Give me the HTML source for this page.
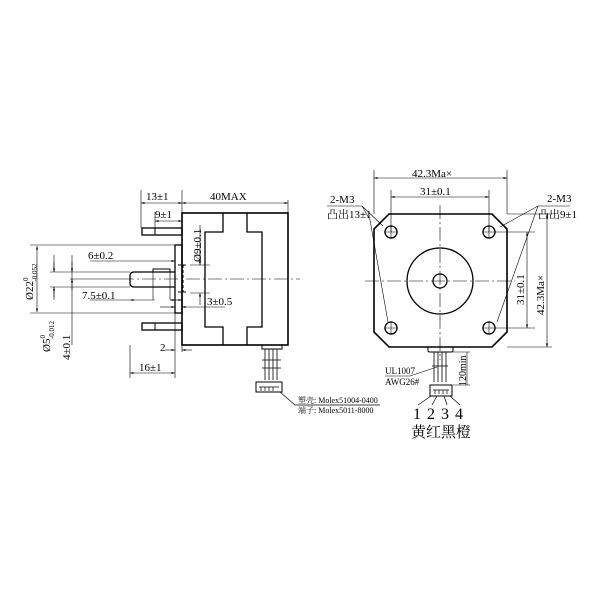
<!DOCTYPE html>
<html><head><meta charset="utf-8"><style>
html,body{margin:0;padding:0;background:#fff}
svg{display:block}
text{font-family:"Liberation Serif","Noto Serif CJK SC",serif;fill:#000}
</style></head><body>
<svg width="600" height="600" viewBox="0 0 600 600" xmlns="http://www.w3.org/2000/svg">
<defs>
<marker id="a" viewBox="0 0 10 10" refX="10" refY="5" markerWidth="6" markerHeight="6" orient="auto-start-reverse"><path d="M0,2 L10,5 L0,8z" fill="#000"/></marker>
</defs>
<g fill="none" stroke="#000" stroke-width="1">
<rect x="182" y="213" width="106" height="132" stroke-width="1.6"/>
<path d="M223,213 V232 H205 V327 H223 V345 M247,213 V232 H262 V327 H247 V345" stroke-width="1.3"/>
<rect x="175" y="245" width="7" height="68" stroke-width="1.3"/>
<path d="M130,276 Q130,272 134,272 H175 M130,283 Q130,287 134,287 H175 M130,276 V283" stroke-width="1.3"/>
<path d="M153,272 V269 H170 V272" stroke-width="1"/>
<rect x="142" y="228" width="40" height="7" stroke-width="1.3"/>
<rect x="142" y="323" width="40" height="7" stroke-width="1.3"/>
<path d="M155,228 V235 M155,323 V330"/>
<path d="M178,265 H186 M178,292 H186 M183,265 V292" stroke-dasharray="3,2"/>
<path d="M120,279 H300" stroke-width="0.6" stroke-dasharray="14,3,2,3"/>
<rect x="262" y="345" width="20" height="4"/>
<path d="M265,349 V380 M269,349 V380 M273,349 V380 M277,349 V380 M262,360 H281 M262,368 H281" stroke-width="0.8"/>
<rect x="256" y="382" width="26" height="10"/>
<path d="M259,387 H279 M261,387 V391 M265,387 V391 M269,387 V391 M273,387 V391" stroke-width="0.7"/>
<path d="M280,392 L295,405 H380" stroke-width="0.7"/>
<path d="M141,228 V190 M182,213 V190 M288,213 V200 M155,228 V212" stroke-width="0.6"/>
<path d="M141,203 H182" marker-start="url(#a)" marker-end="url(#a)" stroke-width="0.6"/>
<path d="M182,203 H288" marker-start="url(#a)" marker-end="url(#a)" stroke-width="0.6"/>
<path d="M155,221 H182" marker-start="url(#a)" marker-end="url(#a)" stroke-width="0.6"/>
<path d="M30,245 H175 M30,313 H175" stroke-width="0.6"/>
<path d="M37,246 V312" marker-start="url(#a)" marker-end="url(#a)" stroke-width="0.6"/>
<path d="M50,272 H130 M50,287 H130" stroke-width="0.6"/>
<path d="M54,255 V272 M54,287 V300 M54,270 V260" stroke-width="0.6"/>
<path d="M54,262 V272" marker-end="url(#a)" stroke-width="0.6"/><path d="M54,297 V287" marker-end="url(#a)" stroke-width="0.6"/>
<path d="M72,262 V272" marker-end="url(#a)" stroke-width="0.6"/><path d="M72,255 V345" stroke-width="0.6"/>
<path d="M72,290 V279" marker-end="url(#a)" stroke-width="0.6"/>
<path d="M90,261 H153 M70,279 H120" stroke-width="0.6"/>
<path d="M153,261 H175" marker-end="url(#a)" stroke-width="0.6"/>
<path d="M90,300 H130" stroke-width="0.6"/><path d="M155,300 H130" marker-end="url(#a)" stroke-width="0.6"/>
<path d="M153,269 V300 M170,269 V300" stroke-width="0.6"/>
<path d="M170,300 H182" marker-start="url(#a)" marker-end="url(#a)" stroke-width="0.6"/>
<path d="M200,225 V265 M190,265 H210 M190,293 H210" stroke-width="0.6"/>
<path d="M200,250 V265" marker-end="url(#a)" stroke-width="0.6"/>
<path d="M200,305 V293" marker-end="url(#a)" stroke-width="0.6"/>
<path d="M160,307 H175" marker-end="url(#a)" stroke-width="0.6"/>
<path d="M200,307 H182" marker-end="url(#a)" stroke-width="0.6"/>
<path d="M200,307 H225" stroke-width="0.6"/>
<path d="M130,345 V378 M175,313 V378 M182,345 V352" stroke-width="0.6"/>
<path d="M130,373 H175" marker-start="url(#a)" marker-end="url(#a)" stroke-width="0.6"/>
<path d="M165,350 H175" marker-end="url(#a)" stroke-width="0.6"/>
<path d="M192,350 H182" marker-end="url(#a)" stroke-width="0.6"/>
<path d="M389,214 H492 L507,229 V332 L492,347 H389 L374,332 V229 Z" stroke-width="1.6"/>
<circle cx="391" cy="232" r="6" stroke-width="1.3"/><circle cx="489" cy="232" r="6" stroke-width="1.3"/>
<circle cx="391" cy="328" r="6" stroke-width="1.3"/><circle cx="489" cy="328" r="6" stroke-width="1.3"/>
<circle cx="440" cy="281" r="33" stroke-width="1.3"/>
<circle cx="440" cy="281" r="7" stroke-width="1.3"/>
<path d="M440,205 V360 M365,281 H515 M384,232 H398 M391,225 V239 M482,232 H496 M489,225 V239 M384,328 H398 M391,321 V335 M482,328 H496 M489,321 V335" stroke-width="0.6" stroke-dasharray="14,3,2,3"/>
<path d="M428,347 H453 V351 Q453,352 451,352 H430 Q428,352 428,351 Z"/>
<path d="M434,352 V382 M438,352 V382 M442,352 V382 M446,352 V382 M432,366 H448" stroke-width="0.8"/>
<rect x="430" y="385" width="22" height="11"/>
<path d="M433,390 H449 M435,390 V394 M439,390 V394 M443,390 V394 M447,390 V394" stroke-width="0.7"/>
<path d="M431,396 L418,405 M437,396 L432,405 M444,396 L447,405 M450,396 L460,405" stroke-width="0.7"/>
<path d="M437,367 L410,376 H385" stroke-width="0.6"/>
<path d="M374,214 V170 M507,214 V170 M391,232 V190 M489,232 V190" stroke-width="0.6"/>
<path d="M374,178 H507" marker-start="url(#a)" marker-end="url(#a)" stroke-width="0.6"/>
<path d="M391,197 H489" marker-start="url(#a)" marker-end="url(#a)" stroke-width="0.6"/>
<path d="M495,232 H535 M495,328 H535 M507,214 H552 M507,347 H552" stroke-width="0.6"/>
<path d="M527,232 V328" marker-start="url(#a)" marker-end="url(#a)" stroke-width="0.6"/>
<path d="M547,214 V347" marker-start="url(#a)" marker-end="url(#a)" stroke-width="0.6"/>
<path d="M453,352 H470 M453,385 H470" stroke-width="0.6"/>
<path d="M467,352 V385" stroke-width="0.6"/>
<path d="M327,206 H362 L370,220 L388,322" stroke-width="0.6"/>
<path d="M362,206 L383,226" stroke-width="0.6"/>
<path d="M570,206 H538 L500,227 M538,206 L497,322" stroke-width="0.6"/>
</g>
<g font-size="11">
<text x="146" y="200">13±1</text>
<text x="210" y="200">40MAX</text>
<text x="155" y="218">9±1</text>
<text x="88" y="259">6±0.2</text>
<text x="82" y="299">7.5±0.1</text>
<text x="207" y="305">3±0.5</text>
<text x="160" y="351">2</text>
<text x="139" y="371">16±1</text>
<text transform="translate(201,262) rotate(-90)">Ø9±0.1</text>
<text transform="translate(33,300) rotate(-90)">Ø22<tspan font-size="7" dy="-5">0</tspan><tspan font-size="7" dx="-4" dy="9">-0.052</tspan></text>
<text transform="translate(50,352) rotate(-90)">Ø5<tspan font-size="7" dy="-5">0</tspan><tspan font-size="7" dx="-4" dy="9">-0.012</tspan></text>
<text transform="translate(70,360) rotate(-90)">4±0.1</text>
<text x="412" y="177">42.3Ma×</text>
<text x="420" y="195">31±0.1</text>
<text x="330" y="203">2-M3</text>
<text x="327" y="218">凸出13±1</text>
<text x="547" y="202">2-M3</text>
<text x="538" y="218">凸出9±1</text>
<text transform="translate(524,305) rotate(-90)">31±0.1</text>
<text transform="translate(544,315) rotate(-90)">42.3Ma×</text>
<text transform="translate(466,386) rotate(-90)" font-size="10">120min</text>
<text x="385" y="374" font-size="9">UL1007</text>
<text x="385" y="385" font-size="9">AWG26#</text>
<text x="298" y="403" font-size="8">塑壳: Molex51004-0400</text>
<text x="298" y="413" font-size="8">端子: Molex5011-8000</text>
<text x="413" y="419" font-size="16" letter-spacing="1">1 2 3 4</text>
<text x="411" y="437" font-size="15">黄红黑橙</text>
</g>
</svg>
</body></html>
